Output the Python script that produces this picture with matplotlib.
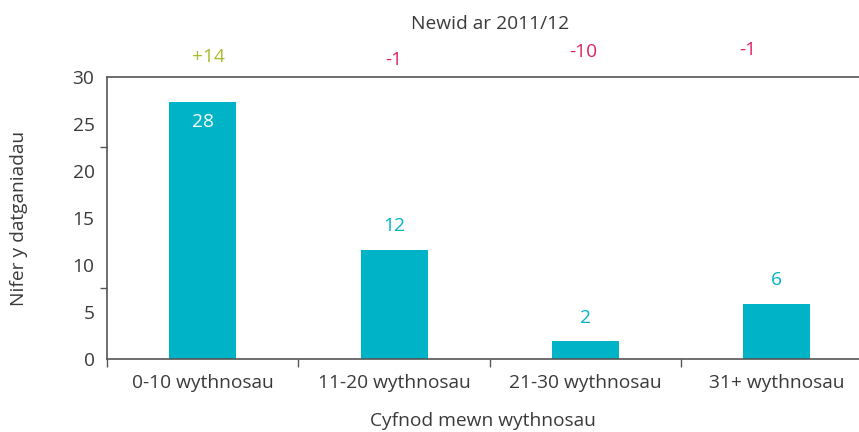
import matplotlib
matplotlib.use('Agg')
import matplotlib.pyplot as plt
from matplotlib.ticker import MultipleLocator

# Data
categories = ['0-10 wythnosau', '11-20 wythnosau', '21-30 wythnosau', '31+ wythnosau']
bar_heights = [27.3, 11.6, 1.9, 5.9]
bar_labels = ['28', '12', '2', '6']
changes = ['+14', '-1', '-10', '-1']

# Colours
bar_color = '#00b3c7'
text_color = '#3a3a3a'
up_color = '#a9bc2a'
down_color = '#e1245f'

plt.rcParams['font.family'] = ['Open Sans', 'DejaVu Sans']
fs = 13.8

fig = plt.figure(figsize=(8.59, 4.32), dpi=100)
ax = fig.add_axes([0.1246, 0.169, 0.8754, 0.653])

x = list(range(len(categories)))
ax.bar(x, bar_heights, width=0.35, color=bar_color, zorder=2)

ax.set_ylim(0, 30)
ax.set_xlim(-0.5, 3.43)

# labels every 5, tick marks every 7.5 (as in the original)
ax.yaxis.set_major_locator(MultipleLocator(5))
ax.yaxis.set_minor_locator(MultipleLocator(7.5))
ax.tick_params(axis='y', which='major', length=0, pad=9, labelsize=fs, labelcolor=text_color)
ax.tick_params(axis='y', which='minor', length=5, width=1, color='#555555')

ax.set_xticks(x)
ax.set_xticklabels(categories, fontsize=fs, color=text_color)
ax.set_xticks([i - 0.5 for i in range(len(categories))], minor=True)
ax.tick_params(axis='x', which='major', length=0, pad=11)
ax.tick_params(axis='x', which='minor', length=6, width=1, color='#555555')

ax.spines['right'].set_visible(False)
for side in ['left', 'bottom', 'top']:
    ax.spines[side].set_color('#555555')
    ax.spines[side].set_linewidth(1.2)

ax.set_xlabel('Cyfnod mewn wythnosau', fontsize=fs, color=text_color, labelpad=14)
ax.set_ylabel('Nifer y datganiadau', fontsize=fs, color=text_color, labelpad=32)

# value labels
for i, (h, lab) in enumerate(zip(bar_heights, bar_labels)):
    if h > 20:
        ax.annotate(lab, (i, h), xytext=(0, -14), textcoords='offset points',
                    ha='center', va='center', color='white', fontsize=fs)
    else:
        ax.annotate(lab, (i, h), xytext=(0, 17), textcoords='offset points',
                    ha='center', va='center', color=bar_color, fontsize=fs)

# change since 2011/12
change_pos = [(0.03, 32.1), (1.0, 31.8), (1.99, 32.7), (2.85, 32.9)]
for (cx, cy), c in zip(change_pos, changes):
    col = up_color if c.startswith('+') else down_color
    ax.text(cx, cy, c, ha='center', va='center', color=col, fontsize=fs, clip_on=False)

fig.text(0.57, 0.945, 'Newid ar 2011/12', ha='center', va='center', fontsize=fs, color=text_color)

fig.savefig('out.png', dpi=100)
